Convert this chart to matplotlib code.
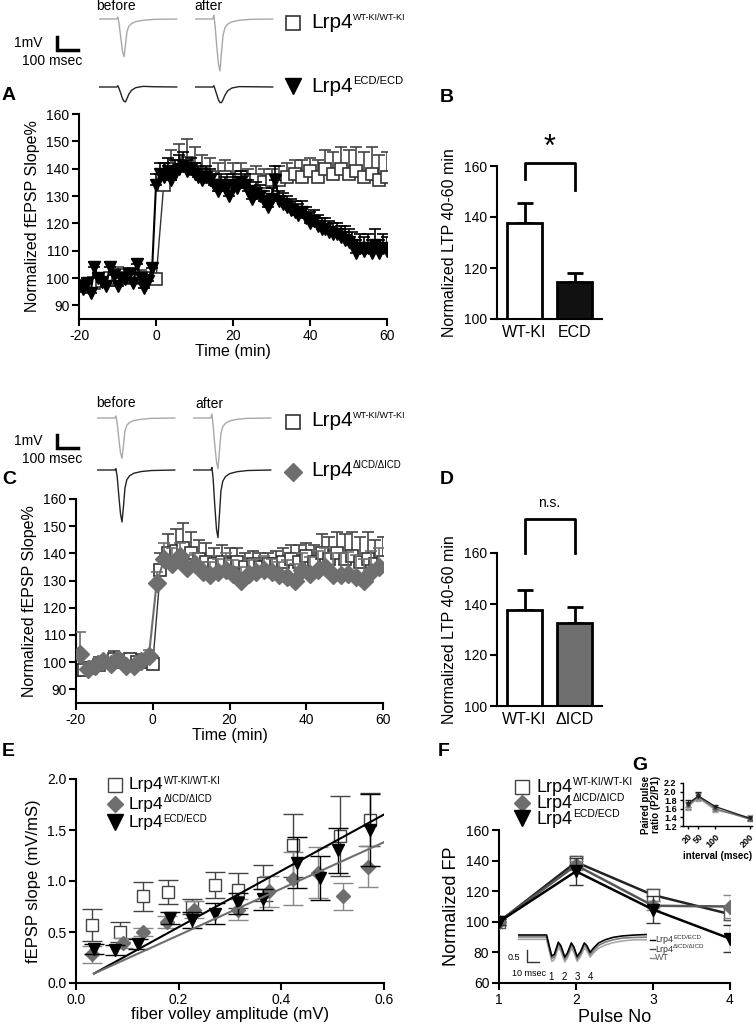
import matplotlib
matplotlib.use('Agg')
import matplotlib.pyplot as plt
import numpy as np

plt.rcParams['font.family'] = ['Liberation Sans', 'DejaVu Sans']
plt.rcParams['axes.unicode_minus'] = False

W, H = 756, 1025

# ---------------- data ----------------
# A / C : LTP time course (normalized fEPSP slope %)
t_wt = np.arange(-20, 61, 2)
wt_ltp = [97, 97, 98, 99, 100, 101, 100, 101, 100, 100, 99.5,
          134, 140, 141, 142, 140, 138, 137, 136, 137, 136, 137, 135, 136, 135, 136,
          136, 137, 138, 137, 139, 137, 140, 138, 140, 138, 139, 137, 138, 136, 137]
wt_ltp_err = [2, 3, 2, 3, 2, 3, 2, 2, 3, 2, 2,
              6, 7, 8, 9, 8, 7, 7, 6, 6, 6, 5, 5, 5, 5, 4,
              5, 5, 5, 6, 5, 6, 7, 8, 8, 9, 9, 9, 10, 9, 9]

t_ecd = np.arange(-20, 61, 1)
ecd_ltp = [97, 96, 98, 94.5, 104, 100, 98.5, 97, 104, 101, 97, 100, 99.5, 101.5, 98, 105, 100, 96.5, 99, 103.5,
           134, 138, 137, 139, 136, 138, 140, 141, 139, 140, 138, 137, 136, 137, 136, 134, 132, 134, 133, 130,
           134, 133, 135, 134, 132, 129, 131, 130, 128, 126, 129, 136, 128, 127, 126, 125, 124, 123, 124, 122,
           120, 121, 119, 118, 118, 117, 116, 116, 115, 114, 113, 112, 109, 111, 110, 111, 109, 112, 109, 111, 110]
ecd_ltp_err = [2, 2, 2, 2, 2, 2, 2, 2, 2, 2, 2, 2, 2, 2, 2, 2, 2, 2, 2, 2,
               4, 4, 5, 5, 4, 5, 5, 5, 4, 4, 4, 4, 4, 4, 4, 4, 4, 4, 4, 4,
               4, 4, 4, 4, 4, 4, 4, 4, 4, 4, 4, 5, 4, 4, 4, 4, 4, 4, 4, 4,
               4, 4, 4, 4, 4, 4, 4, 4, 4, 5, 5, 5, 5, 5, 5, 5, 5, 6, 5, 5, 5]

t_icd = list(range(-19, 0, 2)) + list(range(1, 60, 2))
icd_ltp = [103, 97.5, 98.5, 100.3, 99.5, 101, 98.5, 98.5, 100.3, 102.4,
           129, 138, 136, 139, 134.5, 136, 133, 132, 133, 134, 132.5, 130, 132.5, 133, 134,
           133, 132, 131.5, 130, 134, 132.5, 134, 135, 132, 132, 132.5, 131.5, 130, 133, 135]
icd_ltp_err = [8, 2, 2, 2, 2, 2, 2, 2, 2, 2,
               4, 6, 6, 5, 5, 4, 4, 5, 5, 6, 5, 5, 5, 5, 5,
               5, 5, 6, 6, 6, 6, 7, 7, 8, 8, 8, 8, 8, 8, 7]

# B / D : LTP 40-60 min
bar_groups_B = ['WT-KI', 'ECD']
bar_mean_B = [137.5, 114.5]
bar_err_B = [8, 3.5]
bar_groups_D = ['WT-KI', '\u0394ICD']
bar_mean_D = [137.5, 132.5]
bar_err_D = [8, 6.5]

# E : input-output
e_wt_x = [0.031, 0.086, 0.131, 0.18, 0.225, 0.271, 0.316, 0.365, 0.423, 0.514, 0.573]
e_wt_y = [0.57, 0.5, 0.85, 0.89, 0.75, 0.96, 0.91, 0.98, 1.35, 1.44, 1.6]
e_wt_err = [0.16, 0.1, 0.14, 0.12, 0.07, 0.13, 0.17, 0.18, 0.31, 0.39, 0.26]
e_icd_x = [0.031, 0.092, 0.131, 0.177, 0.229, 0.316, 0.375, 0.423, 0.472, 0.521, 0.569]
e_icd_y = [0.28, 0.39, 0.5, 0.6, 0.72, 0.72, 0.9, 1.02, 1.08, 0.85, 1.14]
e_icd_err = [0.08, 0.05, 0.04, 0.06, 0.08, 0.1, 0.15, 0.26, 0.25, 0.13, 0.2]
e_ecd_x = [0.036, 0.076, 0.121, 0.183, 0.225, 0.271, 0.316, 0.365, 0.43, 0.475, 0.511, 0.573]
e_ecd_y = [0.33, 0.32, 0.38, 0.64, 0.62, 0.68, 0.78, 0.82, 1.18, 1.03, 1.3, 1.5]
e_ecd_err = [0.05, 0.05, 0.05, 0.06, 0.08, 0.1, 0.1, 0.1, 0.25, 0.22, 0.22, 0.35]
fit_x = [0.035, 0.6]
fit_slope = [2.76, 2.28]
fit_icpt = [-0.004, 0.0125]

# F : train of 4 pulses
pulse_no = [1, 2, 3, 4]
f_wt = [100, 139, 117.5, 105]
f_wt_err = [2, 4, 4, 4]
f_icd = [100, 137, 110.5, 110]
f_icd_err = [2, 3, 3, 7.5]
f_ecd = [100, 133, 108, 89]
f_ecd_err = [2, 9, 9, 9]

# G : paired pulse ratio
g_int = [20, 50, 100, 200]
g_ecd = [1.72, 1.9, 1.65, 1.38]
g_icd = [1.68, 1.88, 1.6, 1.36]
g_wt = [1.65, 1.85, 1.57, 1.4]
g_err = [0.08, 0.08, 0.05, 0.05]

# example traces (ms, mV)
t_trace = [0, 85, 90, 96, 104, 112, 119, 126, 133, 142, 155, 175, 210, 260, 370]
trA_wt_before = [0, 0, 0.15, -0.4, -1.5, -2.5, -2.9, -2.0, -1.0, -0.55, -0.35, -0.2, -0.1, -0.03, 0]
trA_wt_after = [0, 0, 0.3, -0.6, -2.2, -3.5, -4.0, -2.6, -1.3, -0.7, -0.4, -0.22, -0.1, -0.03, 0]
trA_ecd_before = [0, 0, 0.1, -0.15, -0.5, -0.9, -1.1, -1.15, -0.9, -0.55, -0.25, -0.05, 0.05, 0.02, 0]
trA_ecd_after = [0, 0, 0.1, -0.2, -0.6, -1.0, -1.2, -1.2, -1.0, -0.65, -0.3, -0.08, 0.03, 0.02, 0]
trC_wt_before = [0, 0, 0.15, -0.4, -1.6, -2.7, -3.1, -2.1, -1.0, -0.55, -0.35, -0.2, -0.1, -0.03, 0]
trC_wt_after = [0, 0, 0.3, -0.6, -2.1, -3.4, -3.9, -2.5, -1.2, -0.65, -0.4, -0.22, -0.1, -0.03, 0]
trC_icd_before = [0, 0, 0.1, -0.5, -2.0, -3.4, -4.0, -2.8, -1.4, -0.75, -0.45, -0.25, -0.12, -0.04, 0]
trC_icd_after = [0, 0, 0.2, -0.7, -2.8, -4.6, -5.2, -3.4, -1.6, -0.85, -0.5, -0.28, -0.13, -0.04, 0]

t_fp = [0, 22, 24, 26, 28, 31, 33, 36, 38, 41, 43, 45.5, 48, 51, 53, 55.5, 58, 62, 67, 73, 80, 90, 99]
fp_ecd = [0, 0, -0.45, -0.88, -0.8, -0.3, -0.45, -0.92, -0.75, -0.33, -0.5, -0.9, -0.7, -0.33, -0.45,
          -0.72, -0.55, -0.33, -0.2, -0.1, -0.04, 0, 0.02]
fp_icd = [-0.08, -0.08, -0.55, -0.98, -0.9, -0.4, -0.55, -1.02, -0.85, -0.43, -0.6, -1.0, -0.8, -0.43,
          -0.55, -0.82, -0.65, -0.43, -0.3, -0.2, -0.13, -0.1, -0.09]
fp_wt = [-0.18, -0.18, -0.65, -1.1, -1.02, -0.52, -0.67, -1.12, -0.95, -0.55, -0.72, -1.1, -0.9, -0.55,
         -0.65, -0.92, -0.75, -0.55, -0.42, -0.32, -0.25, -0.2, -0.2]

SUP_WT = 'WT-KI/WT-KI'
SUP_ECD = 'ECD/ECD'
SUP_ICD = '\u0394ICD/\u0394ICD'

GRAY = '#6e6e6e'
LGRAY = '#a8a8a8'

# ---------------- figure ----------------
fig = plt.figure(figsize=(W / 100, H / 100), dpi=100)

# overlay in pixel units for labels, legends and scale bars (drawn on top)
ov = fig.add_axes([0, 0, 1, 1])
ov.set_xlim(0, W)
ov.set_ylim(H, 0)
ov.axis('off')
ov.set_zorder(10)


def px_axes(l, t, r, b):
    ax = fig.add_axes([l / W, 1 - b / H, (r - l) / W, (b - t) / H])
    ax.patch.set_alpha(0)
    return ax


def style(ax, lw=1.5, size=10, length=5):
    for s in ['top', 'right']:
        ax.spines[s].set_visible(False)
    for s in ['left', 'bottom']:
        ax.spines[s].set_linewidth(lw)
    ax.tick_params(direction='out', width=lw, length=length, labelsize=size, pad=2)


def lrp(x, y, sup, size, sup_size, color='black'):
    t = ov.text(x, y, 'Lrp4', fontsize=size, va='center', ha='left', color=color)
    ov.annotate(sup, xy=(1.0, 0.8), xycoords=t, fontsize=sup_size, va='center', ha='left', color=color)


MS_PER_PX = 4.76
PX_PER_MV = 13.0


def trace(x0, base_y, v, color):
    ax = px_axes(x0, base_y - 12, x0 + 80, base_y + 75)
    ax.set_zorder(5)
    ax.set_xlim(0, 80 * MS_PER_PX)
    ax.set_ylim(-75 / PX_PER_MV, 12 / PX_PER_MV)
    ax.plot(t_trace, v, color=color, lw=1)
    ax.axis('off')


def scale_bar(y_top):
    ov.plot([57, 57, 78], [y_top, y_top + 13, y_top + 13], color='black', lw=2.5, solid_joinstyle='miter')
    ov.text(28, y_top + 6, '1mV', fontsize=10, ha='center', va='center')
    ov.text(52, y_top + 24, '100 msec', fontsize=10, ha='center', va='center')


# ---- top traces A ----
ov.text(116, 6, 'before', fontsize=10, ha='center', va='center')
ov.text(208, 6, 'after', fontsize=10, ha='center', va='center')
scale_bar(37)
trace(99, 19, trA_wt_before, LGRAY)
trace(195, 19, trA_wt_after, LGRAY)
trace(99, 87, trA_ecd_before, '#222222')
trace(195, 87, trA_ecd_after, '#222222')
ov.plot(293, 23, marker='s', ms=10, mfc='white', mec='#333333', mew=1.2)
lrp(311, 23, SUP_WT, 15, 6.5)
ov.plot(293, 86, marker='v', ms=11, color='black')
lrp(311, 87, SUP_ECD, 15, 8)

# ---- top traces C ----
ov.text(116, 403, 'before', fontsize=10, ha='center', va='center')
ov.text(209, 404, 'after', fontsize=10, ha='center', va='center')
scale_bar(435)
trace(97, 418, trC_wt_before, LGRAY)
trace(193, 418, trC_wt_after, LGRAY)
trace(97, 470, trC_icd_before, '#222222')
trace(193, 470, trC_icd_after, '#222222')
ov.plot(293, 422, marker='s', ms=10, mfc='white', mec='#333333', mew=1.2)
lrp(311, 421, SUP_WT, 15, 6.5)
ov.plot(293, 472, marker='D', ms=9, color=GRAY)
lrp(311, 471, SUP_ICD, 15, 7)

# panel letters
for lab, x, y in [('A', 9, 96), ('B', 447, 97), ('C', 9, 480), ('D', 447, 480),
                  ('E', 8, 751), ('F', 444, 751), ('G', 640, 765)]:
    ov.text(x, y, lab, fontsize=14, fontweight='bold', ha='center', va='center')

# ---- A ----
axA = px_axes(79, 114, 387, 319)
style(axA)
axA.errorbar(t_wt, wt_ltp, yerr=[np.zeros(len(wt_ltp)), wt_ltp_err], fmt='-s', color='#333333',
             mfc='white', mec='#333333', ms=8, mew=1.2, ecolor='#444444', elinewidth=1.2,
             capsize=4, capthick=1.2, lw=1, zorder=2)
axA.errorbar(t_ecd, ecd_ltp, yerr=[np.zeros(len(ecd_ltp)), ecd_ltp_err], fmt='-v', color='black',
             ms=9, ecolor='black', elinewidth=1.2, capsize=4, capthick=1.2, lw=1.5, zorder=3)
axA.set_xlim(-20, 60)
axA.set_ylim(85, 160)
axA.set_xticks([-20, 0, 20, 40, 60])
axA.set_yticks(range(90, 161, 10))
axA.set_xlabel('Time (min)', fontsize=11.5, labelpad=1)
axA.set_ylabel('Normalized fEPSP Slope%', fontsize=11.5, labelpad=4)

# ---- C ----
axC = px_axes(76, 499, 383, 703)
style(axC)
axC.errorbar(t_wt, wt_ltp, yerr=[np.zeros(len(wt_ltp)), wt_ltp_err], fmt='-s', color='#333333',
             mfc='white', mec='#333333', ms=8, mew=1.2, ecolor='#444444', elinewidth=1.2,
             capsize=4, capthick=1.2, lw=1, zorder=2)
axC.errorbar(t_icd, icd_ltp, yerr=[np.zeros(len(icd_ltp)), icd_ltp_err], fmt='-D', color=GRAY,
             ms=9, ecolor=GRAY, elinewidth=1.2, capsize=4, capthick=1.2, lw=1.5, zorder=3)
axC.set_xlim(-20, 60)
axC.set_ylim(85, 160)
axC.set_xticks([-20, 0, 20, 40, 60])
axC.set_yticks(range(90, 161, 10))
axC.set_xlabel('Time (min)', fontsize=11.5, labelpad=1)
axC.set_ylabel('Normalized fEPSP Slope%', fontsize=11.5, labelpad=4)


# ---- B / D ----
def bar_panel(box, groups, means, errs, colors, bracket, sig, sig_y, sig_size):
    ax = px_axes(*box)
    style(ax, lw=1.5, size=10)
    x = np.arange(len(groups))
    ax.bar(x, means, width=0.7, color=colors, edgecolor='black', lw=2, zorder=2)
    ax.errorbar(x, means, yerr=[np.zeros(len(errs)), errs], fmt='none', ecolor='black',
                elinewidth=2, capsize=6, capthick=2, zorder=1)
    ax.set_xlim(-0.55, 1.55)
    ax.set_ylim(100, 160)
    ax.set_yticks([100, 120, 140, 160])
    ax.set_xticks(x)
    ax.set_xticklabels(groups, fontsize=11.5)
    ax.tick_params(axis='x', length=0, pad=4)
    ax.set_ylabel('Normalized LTP 40-60 min', fontsize=11.5, labelpad=5)
    ax.plot([0, 0, 1, 1], bracket, color='black', lw=2, clip_on=False)
    ax.text(0.5, sig_y, sig, ha='center', va='center', fontsize=sig_size, clip_on=False)
    return ax


bar_panel((497, 166, 602, 319), bar_groups_B, bar_mean_B, bar_err_B, ['white', '#111111'],
          [154.8, 161.2, 161.2, 150.6], '*', 167, 22)
bar_panel((497, 553, 602, 706), bar_groups_D, bar_mean_D, bar_err_D, ['white', GRAY],
          [160, 173.3, 173.3, 160], 'n.s.', 179.5, 10)

# ---- E ----
axE = px_axes(76, 779, 384, 983)
style(axE)
axE.errorbar(e_wt_x, e_wt_y, yerr=e_wt_err, fmt='s', mfc='white', mec='#444444', ms=9, mew=1,
             ecolor='#444444', elinewidth=1, capsize=7, capthick=1, zorder=2)
axE.errorbar(e_icd_x, e_icd_y, yerr=e_icd_err, fmt='D', color=GRAY, ms=7,
             ecolor='#888888', elinewidth=1, capsize=7, capthick=1, zorder=3)
axE.errorbar(e_ecd_x, e_ecd_y, yerr=e_ecd_err, fmt='v', color='black', ms=9,
             ecolor='black', elinewidth=1, capsize=7, capthick=1, zorder=4)
fx = np.array(fit_x)
axE.plot(fx, fit_icpt[0] + fit_slope[0] * fx, color='black', lw=1.5, zorder=5)
axE.plot(fx, fit_icpt[1] + fit_slope[1] * fx, color=GRAY, lw=1.5, zorder=5)
axE.set_xlim(0, 0.6)
axE.set_ylim(0, 2.0)
axE.set_xticks([0, 0.2, 0.4, 0.6])
axE.set_xticklabels(['0.0', '0.2', '0.4', '0.6'])
axE.set_yticks([0, 0.5, 1.0, 1.5, 2.0])
axE.set_yticklabels(['0.0', '0.5', '1.0', '1.5', '2.0'])
axE.set_xlabel('fiber volley amplitude (mV)', fontsize=12, labelpad=0)
axE.set_ylabel('fEPSP slope (mV/mS)', fontsize=12, labelpad=4)
ov.plot(115, 785, marker='s', ms=10, mfc='white', mec='#444444', mew=1)
lrp(129, 785, SUP_WT, 12.5, 7)
ov.plot(115, 804, marker='D', ms=8, color=GRAY)
lrp(129, 804, SUP_ICD, 12.5, 7)
ov.plot(115, 822, marker='v', ms=11, color='black')
lrp(129, 823, SUP_ECD, 12.5, 7)

# ---- F ----
axF = px_axes(499, 830, 730, 983)
style(axF)
axF.errorbar(pulse_no, f_wt, yerr=f_wt_err, fmt='-s', color='#222222', mfc='white', mec='#555555',
             ms=9, mew=1, ecolor='#555555', elinewidth=1, capsize=5, capthick=1, lw=1.8, zorder=2)
axF.errorbar(pulse_no, f_icd, yerr=f_icd_err, fmt='-D', color='#555555', mfc=GRAY, mec=GRAY,
             ms=7, ecolor='#888888', elinewidth=1, capsize=5, capthick=1, lw=1.8, zorder=3)
axF.errorbar(pulse_no, f_ecd, yerr=f_ecd_err, fmt='-v', color='black', ms=9,
             ecolor='#333333', elinewidth=1, capsize=5, capthick=1, lw=1.8, zorder=4)
axF.set_xlim(1, 4)
axF.set_ylim(60, 160)
axF.set_xticks(pulse_no)
axF.set_yticks(range(60, 161, 20))
axF.set_xlabel('Pulse No', fontsize=13, labelpad=2)
axF.set_ylabel('Normalized FP', fontsize=13, labelpad=4)
ov.plot(522, 787, marker='s', ms=10, mfc='white', mec='#444444', mew=1)
lrp(537, 787, SUP_WT, 13, 7.5)
ov.plot(522, 803, marker='D', ms=8, color=GRAY)
lrp(537, 803, SUP_ICD, 13, 7.5)
ov.plot(522, 818, marker='v', ms=11, color='black')
lrp(537, 819, SUP_ECD, 13, 7.5)

# F inset traces
axFi = px_axes(518, 925, 647, 968)
axFi.set_zorder(5)
axFi.set_xlim(0, 99.2)
axFi.set_ylim(-33 / 24, 10 / 24)
axFi.plot(t_fp, fp_wt, color=LGRAY, lw=1.2)
axFi.plot(t_fp, fp_icd, color='#7a7a7a', lw=1.2)
axFi.plot(t_fp, fp_ecd, color='black', lw=1.2)
axFi.axis('off')
ov.plot([527, 527, 539], [950, 962, 962], color='#333333', lw=1)
ov.text(514, 957, '0.5', fontsize=6.5, ha='center', va='center')
ov.text(529, 973, '10 msec', fontsize=6.5, ha='center', va='center')
for k, xx in enumerate([551, 564, 577, 590]):
    ov.text(xx, 977, str(k + 1), fontsize=7, ha='center', va='center')
for yy, sup, c in [(940, SUP_ECD, 'black'), (949, SUP_ICD, '#444444'), (958, '', '#888888')]:
    ov.plot([650, 655], [yy, yy], color=c, lw=1)
    if sup:
        lrp(655, yy, sup, 6.5, 4.5, color='#333333')
    else:
        ov.text(655, yy, 'WT', fontsize=6.5, va='center', ha='left', color='#555555')

# ---- G ----
axG = px_axes(683, 783, 752, 826)
style(axG, lw=1, size=6.5, length=2.5)
axG.errorbar(g_int, g_wt, yerr=g_err, fmt='-o', color=LGRAY, ms=2.5, lw=1, capsize=2, elinewidth=0.8)
axG.errorbar(g_int, g_icd, yerr=g_err, fmt='-o', color=GRAY, ms=2.5, lw=1, capsize=2, elinewidth=0.8)
axG.errorbar(g_int, g_ecd, yerr=g_err, fmt='-v', color='#222222', ms=2.5, lw=1, capsize=2, elinewidth=0.8)
axG.set_xlim(5, 207)
axG.set_ylim(1.2, 2.2)
axG.set_yticks([1.2, 1.4, 1.6, 1.8, 2.0, 2.2])
axG.set_xticks(g_int)
axG.set_xticklabels([str(v) for v in g_int], rotation=45, ha='right', rotation_mode='anchor')
for lab in axG.get_xticklabels() + axG.get_yticklabels():
    lab.set_fontweight('bold')
axG.set_xlabel('interval (msec)', fontsize=7, fontweight='bold', labelpad=1)
axG.set_ylabel('Paired pulse\nratio (P2/P1)', fontsize=7, fontweight='bold', labelpad=2, linespacing=1.0)

fig.savefig('out.png', dpi=100)
